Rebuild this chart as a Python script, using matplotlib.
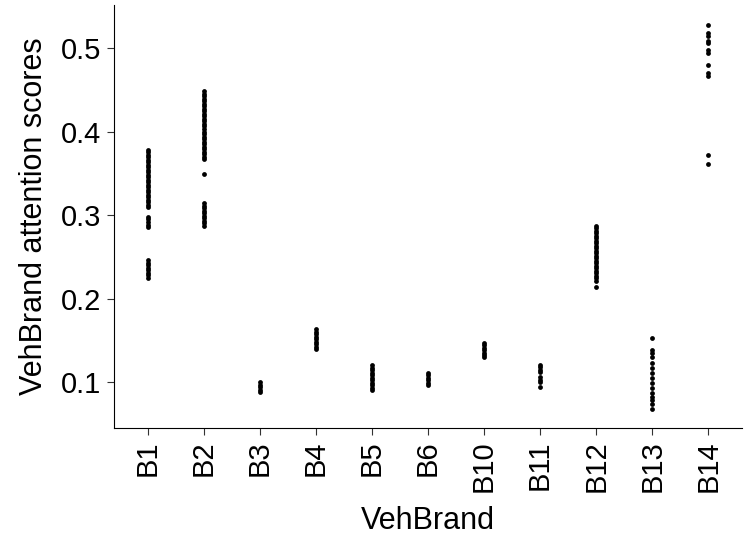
import numpy as np
import matplotlib.pyplot as plt

plt.rcParams['font.family'] = ['Liberation Sans', 'DejaVu Sans']

# attention scores per vehicle brand
brands = ['B1', 'B2', 'B3', 'B4', 'B5', 'B6', 'B10', 'B11', 'B12', 'B13', 'B14']

b1 = [0.378, 0.375, 0.372, 0.369, 0.366, 0.363, 0.360, 0.357, 0.354, 0.351, 0.348,
      0.345, 0.342, 0.339, 0.336, 0.333, 0.330, 0.327, 0.324, 0.321, 0.318, 0.315,
      0.312, 0.310, 0.298, 0.295, 0.292, 0.288, 0.286,
      0.246, 0.243, 0.240, 0.237, 0.234, 0.231, 0.228, 0.225]
b2 = [0.448, 0.445, 0.442, 0.439, 0.436, 0.433, 0.430, 0.427, 0.424, 0.421, 0.418,
      0.415, 0.412, 0.409, 0.406, 0.403, 0.400, 0.397, 0.394, 0.391, 0.388, 0.385,
      0.382, 0.379, 0.376, 0.373, 0.370, 0.367, 0.349,
      0.314, 0.311, 0.308, 0.305, 0.302, 0.299, 0.296, 0.293, 0.290, 0.287]
b3 = [0.100, 0.097, 0.094, 0.091, 0.088]
b4 = [0.163, 0.160, 0.157, 0.154, 0.151, 0.148, 0.145, 0.142, 0.139]
b5 = [0.120, 0.117, 0.114, 0.111, 0.108, 0.105, 0.102, 0.099, 0.096, 0.093, 0.090]
b6 = [0.111, 0.108, 0.105, 0.102, 0.099, 0.097]
b10 = [0.147, 0.144, 0.141, 0.138, 0.135, 0.132, 0.130]
b11 = [0.121, 0.118, 0.115, 0.112, 0.106, 0.103, 0.100, 0.094]
b12 = [0.287, 0.284, 0.281, 0.278, 0.275, 0.272, 0.269, 0.266, 0.263, 0.260, 0.257,
       0.254, 0.251, 0.248, 0.245, 0.242, 0.239, 0.236, 0.233, 0.230, 0.227, 0.224,
       0.221, 0.214]
b13 = [0.153, 0.138, 0.135, 0.130, 0.123, 0.117, 0.111, 0.105, 0.099, 0.093, 0.087,
       0.082, 0.078, 0.074, 0.068]
b14 = [0.528, 0.518, 0.514, 0.508, 0.506, 0.498, 0.494, 0.480, 0.470, 0.466,
       0.372, 0.361]

scores = [b1, b2, b3, b4, b5, b6, b10, b11, b12, b13, b14]

fig = plt.figure(figsize=(7.54, 5.41), dpi=100)
ax = fig.add_axes([0.1512, 0.2089, 0.8328, 0.7819])

for i, vals in enumerate(scores):
    ax.scatter([i] * len(vals), vals, s=12, color='black', linewidths=0)

ax.set_xlim(-0.6, len(brands) - 0.4)
ax.set_ylim(0.045, 0.5515)
ax.set_xticks(range(len(brands)))
ax.set_xticklabels(brands, rotation=90, fontsize=21)
ax.set_yticks([0.1, 0.2, 0.3, 0.4, 0.5])
ax.set_yticklabels(['0.1', '0.2', '0.3', '0.4', '0.5'], fontsize=21)
ax.tick_params(length=5, width=0.8, color='#333333', pad=4)

for side in ['top', 'right']:
    ax.spines[side].set_visible(False)
for side in ['left', 'bottom']:
    ax.spines[side].set_linewidth(0.8)

ax.set_xlabel('VehBrand', fontsize=22, labelpad=10)
ax.set_ylabel('VehBrand attention scores', fontsize=22, labelpad=9)

fig.savefig('out.png', dpi=100)
